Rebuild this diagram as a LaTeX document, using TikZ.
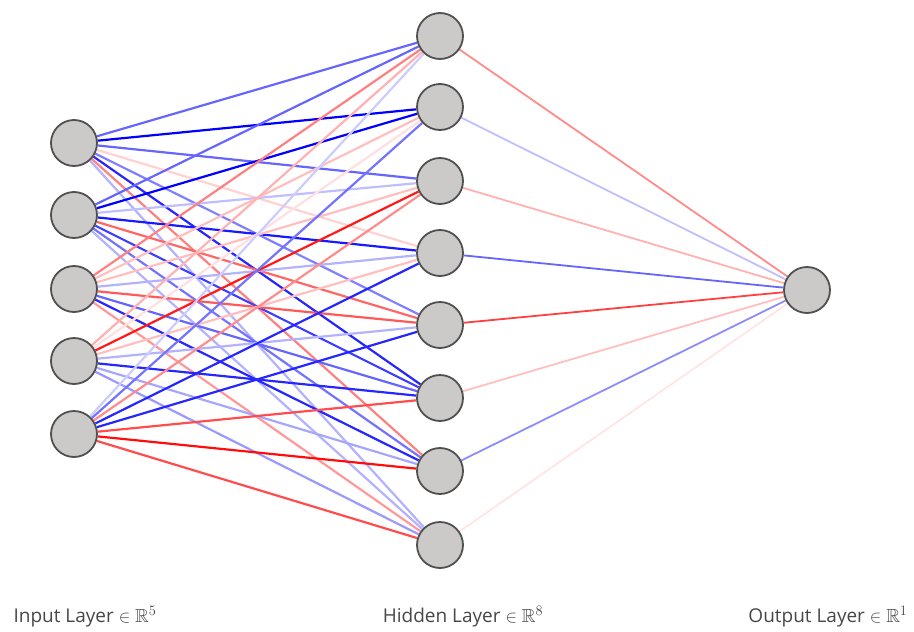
\documentclass[tikz,border=0pt]{standalone}
\usepackage{fontspec}
\setmainfont{Open Sans}
\usepackage{amssymb}
\usetikzlibrary{backgrounds}
\definecolor{nodefill}{RGB}{204,201,201}
\definecolor{nodeline}{RGB}{80,80,80}
\tikzset{
  neuron/.style={circle, draw=nodeline, fill=nodefill, line width=1.8pt, minimum size=46pt, inner sep=0pt},
  wedge/.style={line width=2.2pt},
  lbl/.style={font=\fontsize{19}{22}\selectfont\color{black!72}, anchor=base}
}
\begin{document}
\begin{tikzpicture}[x=1pt,y=-1pt]
\useasboundingbox (0,0) rectangle (914,632);
\foreach \i/\y in {1/143,2/215,3/289,4/361,5/434}
  \node[neuron] (I\i) at (74,\y) {};
\foreach \j/\y in {1/36,2/107,3/181,4/253,5/325,6/398,7/471,8/545}
  \node[neuron] (H\j) at (440,\y) {};
\node[neuron] (O) at (807,290) {};
\begin{scope}[on background layer]
\foreach \i/\j/\c in {
  1/1/blue!60!white, 1/2/blue, 1/3/blue!60!white, 1/4/red!18!white, 1/5/blue!50!white, 1/6/blue!85!white, 1/7/red!50!white, 1/8/blue!30!white,
  2/1/blue!60!white, 2/2/blue, 2/3/blue!25!white, 2/4/blue!90!white, 2/5/red!60!white, 2/6/blue!75!white, 2/7/blue!55!white, 2/8/blue!30!white,
  3/1/red!50!white, 3/2/red!25!white, 3/3/red!25!white, 3/4/blue!30!white, 3/5/red!65!white, 3/6/blue!60!white, 3/7/blue!85!white, 3/8/red!40!white,
  4/1/red!30!white, 4/2/red!12!white, 4/3/red!90!white, 4/4/red!25!white, 4/5/blue!30!white, 4/6/blue!85!white, 4/7/blue!35!white, 4/8/blue!40!white,
  5/1/blue!20!white, 5/2/blue!55!white, 5/3/red!45!white, 5/4/blue!85!white, 5/5/blue!85!white, 5/6/red!70!white, 5/7/red!95!white, 5/8/red!70!white}
  \draw[wedge,\c] (I\i) -- (H\j);
\foreach \j/\c in {1/red!45!white, 2/blue!25!white, 3/red!30!white, 4/blue!60!white, 5/red!75!white, 6/red!25!white, 7/blue!45!white, 8/red!10!white}
  \draw[wedge,line width=1.8pt,\c] (H\j) -- (O);
\end{scope}
\node[lbl] (L1) at (85,622) {Input Layer $\in\mathbb{R}^5$};
\node[lbl] (L2) at (463,622) {Hidden Layer $\in\mathbb{R}^8$};
\node[lbl] (L3) at (828,622) {Output Layer $\in\mathbb{R}^1$};
\end{tikzpicture}
\end{document}
